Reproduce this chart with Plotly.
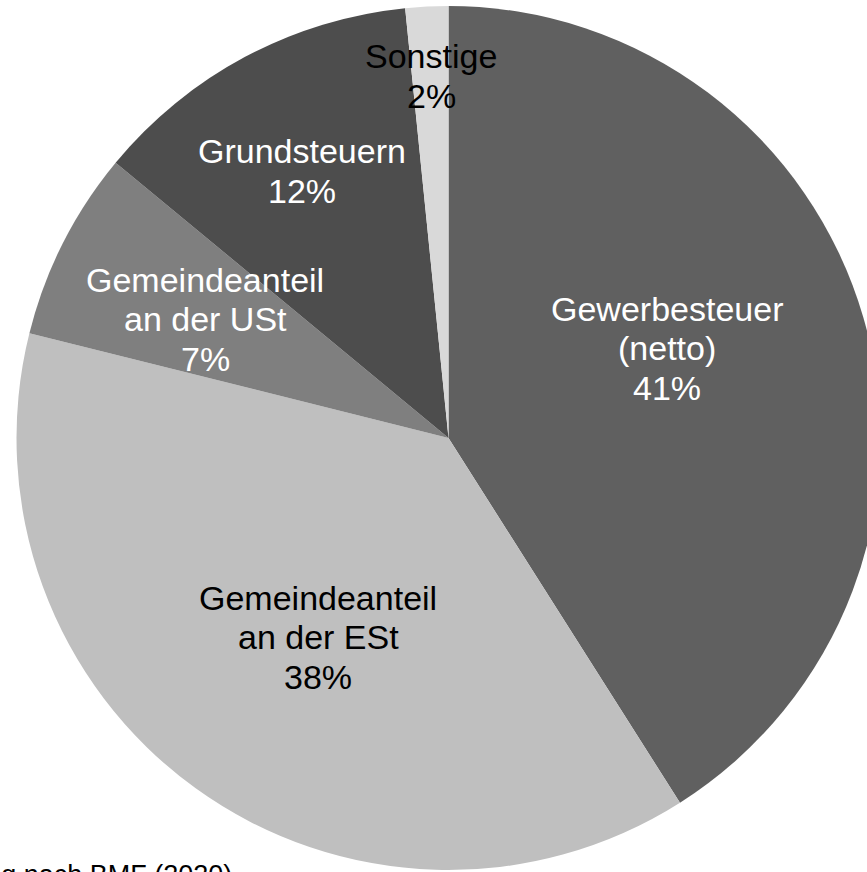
import plotly.graph_objects as go

# Data
labels = ["Gewerbesteuer<br>(netto)", "Gemeindeanteil<br>an der ESt", "Gemeindeanteil<br>an der USt",
          "Grundsteuern", "Sonstige"]
values = [41.0, 37.9, 7.1, 12.4, 1.6]
colors = ["#606060", "#bfbfbf", "#7f7f7f", "#4d4d4d", "#d9d9d9"]
text_colors = ["white", "black", "white", "white", "black"]
source_text = "Quelle: Eigene Darstellung nach BMF (2020)"

# Layout geometry (pixels)
W, H = 882, 872
label_pos_px = [(667, 348), (318, 637), (205, 319), (302, 171), (431, 76)]
line_gap = 39.5
font_family = "Liberation Sans, Arial, sans-serif"

fig = go.Figure(go.Pie(
    labels=labels,
    values=values,
    sort=False,
    direction="clockwise",
    rotation=0,
    marker=dict(colors=colors, line=dict(width=0)),
    textinfo="none",
    hoverinfo="label+percent",
    showlegend=False,
    domain=dict(x=[15 / W, 1.0], y=[(H - 870) / H, (H - 6) / H]),
))

total = sum(values)
for lab, v, tc, (px, py) in zip(labels, values, text_colors, label_pos_px):
    pct = round(100 * v / total)
    lines = lab.split("<br>") + [f"{pct}%"]
    n = len(lines)
    for i, line in enumerate(lines):
        ly = py + (i - (n - 1) / 2) * line_gap
        fig.add_annotation(
            x=px / W, y=1 - ly / H, xref="paper", yref="paper",
            text=line, showarrow=False,
            xanchor="center", yanchor="middle", align="center",
            font=dict(family=font_family, size=34, color=tc),
        )

fig.add_annotation(
    x=234 / W, y=1 - 858 / H, xref="paper", yref="paper",
    text=source_text, showarrow=False, xanchor="right", yanchor="top",
    font=dict(family=font_family, size=27, color="black"),
)

fig.update_layout(
    width=W, height=H,
    margin=dict(l=0, r=0, t=0, b=0),
    paper_bgcolor="white", plot_bgcolor="white",
)

fig.write_html(
    "out.html",
    post_script="document.documentElement.style.overflow='hidden';document.body.style.overflow='hidden';document.body.style.margin='0';",
)
